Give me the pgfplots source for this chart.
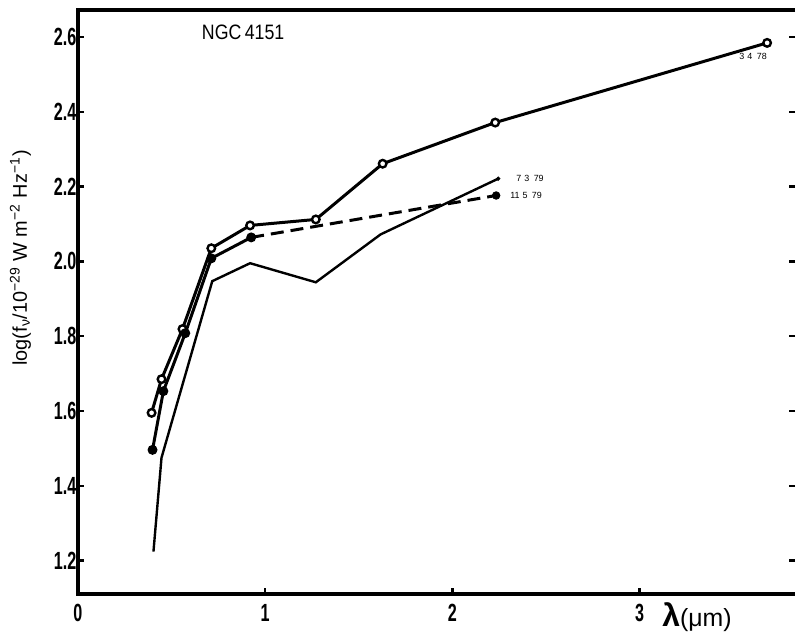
\documentclass[border=0pt]{standalone}
\usepackage{fontspec}
\setmainfont{Liberation Sans}
\newfontfamily\condfont[FakeStretch=0.65]{Liberation Sans}
\newfontfamily\ngcfont[FakeStretch=0.85]{Liberation Sans}
\usepackage{pgfplots}
\pgfplotsset{compat=1.18}
\usetikzlibrary{calc}

\begin{document}
\begin{tikzpicture}
\begin{axis}[
  scale only axis,
  width=359.5bp, height=292.5bp,
  xmin=0, xmax=3.83,
  ymin=1.112, ymax=2.672,
  axis line style={draw=none},
  xtick={0,1,2,3},
  ytick={1.2,1.4,1.6,1.8,2.0,2.2,2.4,2.6},
  xtick pos=left, ytick pos=both,
  tick align=inside,
  major tick length=3bp,
  tick style={line width=1.2pt, black},
  clip=false,
  /pgf/number format/assume math mode=true,
  ticklabel style={font=\condfont\bfseries\fontsize{12.5}{12.5}\selectfont},
  yticklabel style={/pgf/number format/.cd, fixed, fixed zerofill, precision=1, /tikz/.cd, inner xsep=0.5bp},
  xticklabel style={/pgf/number format/.cd, fixed, precision=0, /tikz/.cd, yshift=-2bp},
  ylabel={log(f\textsubscript{ν}/10\textsuperscript{−29} W m\textsuperscript{−2} Hz\textsuperscript{−1})},
  ylabel style={at={(axis description cs:-0.08,0.575)}, anchor=center, font=\fontsize{10}{12}\selectfont},
]
% frame: top, left, bottom (no right spine)
\draw[line width=2bp, line join=miter] (rel axis cs:1,1) -- (rel axis cs:0,1) -- (rel axis cs:0,0) -- (rel axis cs:1,0);

% 3 4 78 (open circles)
\addplot[black, line width=1.5bp, mark=*, mark size=1.9bp,
  mark options={fill=white, line width=1.2bp, solid}] coordinates {
  (0.394,1.595) (0.447,1.685) (0.559,1.819) (0.713,2.035) (0.920,2.096)
  (1.271,2.112) (1.628,2.261) (2.229,2.371) (3.681,2.584)
};

% 7 3 79 (thin line)
\addplot[black, line width=1.2bp, mark=none] coordinates {
  (0.404,1.224) (0.447,1.475) (0.718,1.947) (0.920,1.995)
  (1.271,1.944) (1.617,2.072) (2.245,2.221)
};
\addplot[black, only marks, mark=*, mark size=0.9bp] coordinates {(2.245,2.221)};

% 11 5 79 (filled circles, solid then dashed)
\addplot[black, line width=1.5bp, mark=*, mark size=1.7bp, mark options={solid}] coordinates {
  (0.399,1.496) (0.457,1.653) (0.574,1.808) (0.713,2.008) (0.926,2.064)
};
\addplot[black, line width=1.5bp, dash pattern=on 6.5bp off 3.5bp] coordinates {
  (0.926,2.064) (2.234,2.176)
};
\addplot[black, only marks, mark=*, mark size=1.9bp] coordinates {(2.234,2.176)};

\node[font=\fontsize{4.5}{5}\selectfont] at (axis cs:3.606,2.547) {3\,\,4\,\,\,78};
\node[font=\fontsize{4.5}{5}\selectfont] at (axis cs:2.415,2.221) {7\,\,3\,\,\,79};
\node[font=\fontsize{4.5}{5}\selectfont] at (axis cs:2.394,2.176) {11\,\,5\,\,\,79};
\node[font=\ngcfont\fontsize{10.5}{12}\selectfont] at (axis cs:0.883,2.611) {NGC\,4151};
\node[anchor=base west, inner sep=0pt] at (axis cs:3.12,1.024)
  {\fontsize{16}{16}\selectfont\textbf{λ}\fontsize{12.5}{12}\selectfont(μm)};

\path (rel axis cs:0,0) ++(-39bp,-20.5bp) coordinate (bbA);
\path (rel axis cs:1,1) ++(0bp,5bp) coordinate (bbB);
\path (bbA) (bbB);
\end{axis}
\end{tikzpicture}
\end{document}
